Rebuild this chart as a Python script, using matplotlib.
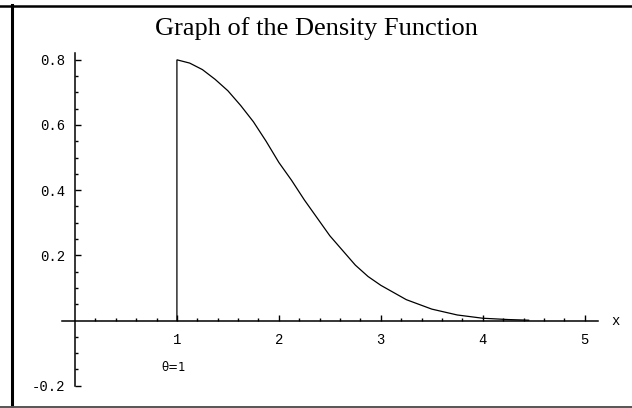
import matplotlib.pyplot as plt
from matplotlib.lines import Line2D
from matplotlib.ticker import FixedLocator

# density curve, theta = 1 (vertical jump at x = 1)
xs = [1.0, 1.0, 1.125, 1.25, 1.375, 1.5, 1.625, 1.75, 1.875, 2.0, 2.125, 2.25, 2.375,
      2.5, 2.625, 2.75, 2.875, 3.0, 3.25, 3.5, 3.75, 4.0, 4.25, 4.45]
ys = [0.0, 0.80, 0.79, 0.77, 0.74, 0.705, 0.66, 0.61, 0.55, 0.485, 0.43, 0.37, 0.315,
      0.26, 0.215, 0.17, 0.135, 0.108, 0.064, 0.035, 0.017, 0.007, 0.003, 0.001]

x_major = [1, 2, 3, 4, 5]
y_major = [-0.2, 0.2, 0.4, 0.6, 0.8]
y_labels = ["-0.2", "0.2", "0.4", "0.6", "0.8"]
title = "Graph of the Density Function"
note = "\u03b8=1"

W, H = 632, 408
fig = plt.figure(figsize=(W / 100, H / 100), dpi=100)

# axes placed in pixel terms
x0, x1 = -0.13, 5.13
y0, y1 = -0.2, 0.82
px_l, px_r = 61.7, 598.0
py_b, py_t = 385.7, 53.3
ax = fig.add_axes([px_l / W, 1 - py_b / H, (px_r - px_l) / W, (py_b - py_t) / H])
ax.set_xlim(x0, x1)
ax.set_ylim(y0, y1)
ax.patch.set_visible(False)

for s in ["top", "right"]:
    ax.spines[s].set_visible(False)
ax.spines["left"].set_position(("data", 0))
ax.spines["bottom"].set_position(("data", 0))
ax.spines["left"].set_bounds(y0, y1)
ax.spines["left"].set_linewidth(1.1)
ax.spines["bottom"].set_linewidth(1.1)

ax.xaxis.set_major_locator(FixedLocator(x_major))
ax.xaxis.set_minor_locator(FixedLocator([v / 5 for v in range(1, 26) if v % 5]))
ax.yaxis.set_major_locator(FixedLocator(y_major))
ax.set_yticklabels(y_labels)
ax.yaxis.set_minor_locator(FixedLocator([v / 20 for v in range(-4, 17) if v % 4 and v]))

mono = "Liberation Mono"
ax.tick_params(which="major", direction="in", length=4, width=1, colors="black",
               labelsize=10, pad=7)
ax.tick_params(which="minor", direction="in", length=2.2, width=1)
for lab in ax.get_xticklabels() + ax.get_yticklabels():
    lab.set_family(mono)
ax.tick_params(axis="x", pad=9)

ax.plot(xs, ys, color="black", lw=0.9, solid_joinstyle="miter", clip_on=False)

ax.text(5.3, 0, "x", family=mono, fontsize=10, ha="center", va="center")
ax.text(0.97, -0.145, note, family="DejaVu Sans", fontsize=8.5, ha="center", va="center")

fig.text(0.5, 1 - 29 / H, title, family="Liberation Serif", fontsize=19,
         ha="center", va="center")

# frame around the picture
fig.add_artist(Line2D([0, 1], [1 - 6 / H] * 2, color="black", lw=1.8,
                      transform=fig.transFigure))
fig.add_artist(Line2D([11.5 / W] * 2, [0, 1 - 5 / H], color="black", lw=2.2,
                      transform=fig.transFigure))
fig.add_artist(Line2D([0, 1], [1.5 / H] * 2, color="#555555", lw=1.4,
                      transform=fig.transFigure))

fig.savefig("out.png", dpi=100, facecolor="white")
